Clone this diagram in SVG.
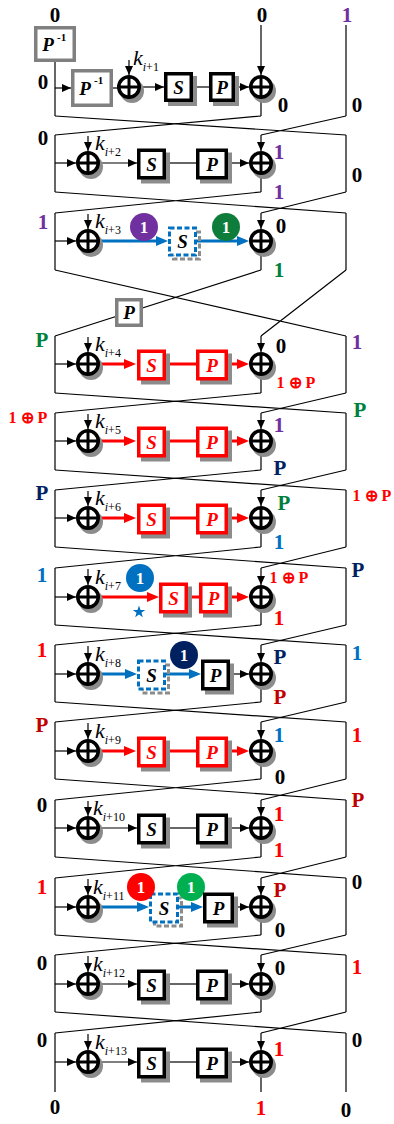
<svg xmlns="http://www.w3.org/2000/svg" xmlns:xlink="http://www.w3.org/1999/xlink" width="394" height="1124" viewBox="0 0 394 1124">
<style>
.w{fill:none;stroke:#000;stroke-width:1.2}
.r{fill:none;stroke:#f00;stroke-width:3}
.u{fill:none;stroke:#0070c0;stroke-width:3}
.sh{fill:#8c8c8c}
.bx{fill:#fff;stroke:#000;stroke-width:3.5}
.bxr{fill:#fff;stroke:#f00;stroke-width:3.5}
.bxg{fill:#fff;stroke:#808080;stroke-width:3.5}
.bxd{fill:#fff;stroke:#0070c0;stroke-width:3;stroke-dasharray:5 2.5}
.shd{fill:none;stroke:#8c8c8c;stroke-width:3;stroke-dasharray:5 2.5}
.t{font-family:"Liberation Serif","Times New Roman",serif;font-weight:bold;font-style:italic;font-size:19px;text-anchor:middle;fill:#000}
.tr{fill:#f00}
.sup{font-family:"Liberation Serif",serif;font-weight:bold;font-size:11px}
.l{font-family:"Liberation Serif","Times New Roman",serif;font-weight:bold;font-size:21px;text-anchor:middle;fill:#000}
.s{font-size:16px}
.k{font-family:"Liberation Serif","Times New Roman",serif;font-style:italic;font-size:22px;fill:#000}
.sub{font-size:12px;font-style:normal}
.c{font-family:"Liberation Serif",serif;font-weight:bold;font-size:17px;fill:#fff;text-anchor:middle}
.pu{fill:#7030a0}.gr{fill:#00803c}.nv{fill:#002060}.bl{fill:#0070c0}.rd{fill:#f00}.dr{fill:#c00000}
</style>
<defs>
<marker id="ab" markerUnits="userSpaceOnUse" markerWidth="9" markerHeight="8" refX="9" refY="4" orient="auto"><path d="M0,0L9,4L0,8z" fill="#000"/></marker>
<marker id="ar" markerUnits="userSpaceOnUse" markerWidth="12" markerHeight="10" refX="8" refY="5" orient="auto"><path d="M0,0L12,5L0,10z" fill="#f00"/></marker>
<marker id="au" markerUnits="userSpaceOnUse" markerWidth="12" markerHeight="10" refX="8" refY="5" orient="auto"><path d="M0,0L12,5L0,10z" fill="#0070c0"/></marker>
<g id="x"><circle cx="3" cy="4" r="12" class="sh"/><circle r="10.25" fill="#fff" stroke="#000" stroke-width="3.5"/><path d="M-10,0H10M0,-10V10" stroke="#000" stroke-width="3"/></g>
</defs>
<rect width="394" height="1124" fill="#fff"/>

<g id="connectors">
<path class="w" d="M55,62V116"/>
<path class="w" d="M55,88H71" marker-end="url(#ab)"/>
<path class="w" d="M113,88H118"/>
<path class="w" d="M129,60V75" marker-end="url(#ab)"/>
<path class="w" d="M141,87H164" marker-end="url(#ab)"/>
<path class="w" d="M193,87H209"/>
<path class="w" d="M235,87H249" marker-end="url(#ab)"/>
<path class="w" d="M261,25V75" marker-end="url(#ab)"/>
<path class="w" d="M261,99V116M346,25V116"/>
<path class="w" d="M55,116L346,135M261,116L55,135M346,116L261,135"/>
<path class="w" d="M55,192L346,213M261,192L55,213M346,192L261,213"/>
<path class="w" d="M55,270L346,336M261,270L55,336M346,270L261,336"/>
<path class="w" d="M55,393L346,413M261,393L55,413M346,393L261,413"/>
<path class="w" d="M55,470L346,490M261,470L55,490M346,470L261,490"/>
<path class="w" d="M55,547L346,568M261,547L55,568M346,547L261,568"/>
<path class="w" d="M55,625L346,645M261,625L55,645M346,625L261,645"/>
<path class="w" d="M55,702L346,722M261,702L55,722M346,702L261,722"/>
<path class="w" d="M55,779L346,800M261,779L55,800M346,779L261,800"/>
<path class="w" d="M55,857L346,878M261,857L55,878M346,857L261,878"/>
<path class="w" d="M55,935L346,955M261,935L55,955M346,935L261,955"/>
<path class="w" d="M55,1012L346,1033M261,1012L55,1033M346,1012L261,1033"/>
<path class="w" d="M55,135V192M261,175V192M346,135V192"/>
<path class="w" d="M55,163H76" marker-end="url(#ab)"/>
<path class="w" d="M88,136V151" marker-end="url(#ab)"/>
<path class="w" d="M261,135V151" marker-end="url(#ab)"/>
<path class="w" d="M100,163H137" marker-end="url(#ab)"/>
<path class="w" d="M166,163H196"/>
<path class="w" d="M228,163H249" marker-end="url(#ab)"/>
<path class="w" d="M55,213V270M261,253V270M346,213V270"/>
<path class="w" d="M55,241H76" marker-end="url(#ab)"/>
<path class="w" d="M88,214V229" marker-end="url(#ab)"/>
<path class="w" d="M261,213V229" marker-end="url(#ab)"/>
<path class="u" d="M100,241H164" marker-end="url(#au)"/>
<path class="u" d="M197,241H245" marker-end="url(#au)"/>
<path class="w" d="M55,336V393M261,376V393M346,336V393"/>
<path class="w" d="M55,364H76" marker-end="url(#ab)"/>
<path class="w" d="M88,337V352" marker-end="url(#ab)"/>
<path class="w" d="M261,336V352" marker-end="url(#ab)"/>
<path class="r" d="M100,364H132" marker-end="url(#ar)"/>
<path class="r" d="M166,364H196"/>
<path class="r" d="M228,364H245" marker-end="url(#ar)"/>
<path class="w" d="M55,413V470M261,453V470M346,413V470"/>
<path class="w" d="M55,441H76" marker-end="url(#ab)"/>
<path class="w" d="M88,414V429" marker-end="url(#ab)"/>
<path class="w" d="M261,413V429" marker-end="url(#ab)"/>
<path class="r" d="M100,441H132" marker-end="url(#ar)"/>
<path class="r" d="M166,441H196"/>
<path class="r" d="M228,441H245" marker-end="url(#ar)"/>
<path class="w" d="M55,490V547M261,530V547M346,490V547"/>
<path class="w" d="M55,518H76" marker-end="url(#ab)"/>
<path class="w" d="M88,491V506" marker-end="url(#ab)"/>
<path class="w" d="M261,490V506" marker-end="url(#ab)"/>
<path class="r" d="M100,518H132" marker-end="url(#ar)"/>
<path class="r" d="M166,518H196"/>
<path class="r" d="M228,518H245" marker-end="url(#ar)"/>
<path class="w" d="M55,568V625M261,609V625M346,568V625"/>
<path class="w" d="M55,597H76" marker-end="url(#ab)"/>
<path class="w" d="M88,569V585" marker-end="url(#ab)"/>
<path class="w" d="M261,568V585" marker-end="url(#ab)"/>
<path class="r" d="M100,597H155" marker-end="url(#ar)"/>
<path class="r" d="M188,597H199"/>
<path class="r" d="M228,597H245" marker-end="url(#ar)"/>
<path class="w" d="M55,645V702M261,686V702M346,645V702"/>
<path class="w" d="M55,674H76" marker-end="url(#ab)"/>
<path class="w" d="M88,646V662" marker-end="url(#ab)"/>
<path class="w" d="M261,645V662" marker-end="url(#ab)"/>
<path class="u" d="M100,674H133" marker-end="url(#au)"/>
<path class="u" d="M166,674H197" marker-end="url(#au)"/>
<path class="w" d="M230,674H249" marker-end="url(#ab)"/>
<path class="w" d="M55,722V779M261,763V779M346,722V779"/>
<path class="w" d="M55,751H76" marker-end="url(#ab)"/>
<path class="w" d="M88,723V739" marker-end="url(#ab)"/>
<path class="w" d="M261,722V739" marker-end="url(#ab)"/>
<path class="r" d="M100,751H132" marker-end="url(#ar)"/>
<path class="r" d="M166,751H196"/>
<path class="r" d="M228,751H245" marker-end="url(#ar)"/>
<path class="w" d="M55,800V857M261,840V857M346,800V857"/>
<path class="w" d="M55,828H76" marker-end="url(#ab)"/>
<path class="w" d="M88,801V816" marker-end="url(#ab)"/>
<path class="w" d="M261,800V816" marker-end="url(#ab)"/>
<path class="w" d="M100,828H137" marker-end="url(#ab)"/>
<path class="w" d="M166,828H196"/>
<path class="w" d="M228,828H249" marker-end="url(#ab)"/>
<path class="w" d="M55,878V935M261,919V935M346,878V935"/>
<path class="w" d="M55,907H76" marker-end="url(#ab)"/>
<path class="w" d="M88,879V895" marker-end="url(#ab)"/>
<path class="w" d="M261,878V895" marker-end="url(#ab)"/>
<path class="u" d="M100,907H145" marker-end="url(#au)"/>
<path class="u" d="M179,907H199" marker-end="url(#au)"/>
<path class="w" d="M234,907H249" marker-end="url(#ab)"/>
<path class="w" d="M55,955V1012M261,996V1012M346,955V1012"/>
<path class="w" d="M55,984H76" marker-end="url(#ab)"/>
<path class="w" d="M88,956V972" marker-end="url(#ab)"/>
<path class="w" d="M261,955V972" marker-end="url(#ab)"/>
<path class="w" d="M100,984H137" marker-end="url(#ab)"/>
<path class="w" d="M166,984H196"/>
<path class="w" d="M228,984H249" marker-end="url(#ab)"/>
<path class="w" d="M55,1033V1092M261,1074V1092M346,1033V1092"/>
<path class="w" d="M55,1062H76" marker-end="url(#ab)"/>
<path class="w" d="M88,1034V1050" marker-end="url(#ab)"/>
<path class="w" d="M261,1033V1050" marker-end="url(#ab)"/>
<path class="w" d="M100,1062H137" marker-end="url(#ab)"/>
<path class="w" d="M166,1062H196"/>
<path class="w" d="M228,1062H249" marker-end="url(#ab)"/>
</g>

<g id="top-labels">
<text class="l" x="55" y="22">0</text>
<text class="l" x="262" y="22">0</text>
<text class="l pu" x="347" y="22">1</text>
</g>

<g id="round1">
<rect class="bxg" x="35.75" y="27.75" width="38.5" height="32.5"/>
<text class="t" x="48" y="51">P</text><text class="sup" x="57" y="41">-1</text>
<rect class="bxg" x="72.75" y="70.75" width="38.5" height="34.5"/>
<text class="t" x="85" y="95">P</text><text class="sup" x="94" y="84">-1</text>
<use xlink:href="#x" x="129" y="87"/>
<text class="k" x="133" y="65">k<tspan class="sub" dy="6"><tspan font-style="italic">i</tspan>+1</tspan></text>
<rect class="sh" x="168" y="76" width="29" height="30"/>
<rect class="bx" x="165.75" y="73.75" width="25.5" height="26.5"/>
<text class="t" x="178.5" y="94">S</text>
<rect class="sh" x="213" y="76" width="26" height="30"/>
<rect class="bx" x="210.75" y="73.75" width="22.5" height="26.5"/>
<text class="t" x="222" y="94">P</text>
<use xlink:href="#x" x="261" y="87"/>
<text class="l" x="43" y="89">0</text>
<text class="l" x="283" y="112">0</text>
<text class="l" x="357" y="112">0</text>
</g>

<g id="round2">
<use xlink:href="#x" x="88" y="163"/>
<text class="k" x="95" y="150">k<tspan class="sub" dy="6"><tspan font-style="italic">i</tspan>+2</tspan></text>
<rect class="sh" x="141" y="152.5" width="29" height="31"/>
<rect class="bx" x="138.75" y="150.25" width="25.5" height="27.5"/>
<text class="t" x="151.5" y="171">S</text>
<rect class="sh" x="200" y="152.5" width="32" height="31"/>
<rect class="bx" x="197.75" y="150.25" width="28.5" height="27.5"/>
<text class="t" x="212" y="171">P</text>
<use xlink:href="#x" x="261" y="163"/>
<text class="l" x="43" y="145">0</text>
<text class="l pu" x="279" y="159">1</text>
<text class="l pu" x="279" y="199">1</text>
<text class="l" x="357" y="182">0</text>
</g>

<g id="round3">
<use xlink:href="#x" x="88" y="241"/>
<text class="k" x="95" y="228">k<tspan class="sub" dy="6"><tspan font-style="italic">i</tspan>+3</tspan></text>
<rect class="shd" x="173.5" y="232" width="26" height="27"/>
<rect class="bxd" x="169.5" y="228" width="26" height="27"/>
<text class="t" x="182.5" y="248">S</text>
<circle cx="144" cy="227" r="14" fill="#7030a0"/><text class="c" x="144" y="233">1</text>
<circle cx="226" cy="227" r="14" fill="#0e7c3a"/><text class="c" x="226" y="233">1</text>
<use xlink:href="#x" x="261" y="241"/>
<text class="l pu" x="43" y="229">1</text>
<text class="l" x="281" y="233">0</text>
<text class="l gr" x="279" y="277">1</text>
</g>

<g id="perm-P">
<rect class="bxg" x="116.75" y="299.75" width="24.5" height="25.5"/>
<text class="t" x="129" y="319">P</text>
</g>

<g id="round4">
<use xlink:href="#x" x="88" y="364"/>
<text class="k" x="95" y="351">k<tspan class="sub" dy="6"><tspan font-style="italic">i</tspan>+4</tspan></text>
<rect class="sh" x="141" y="353.5" width="29" height="31"/>
<rect class="bxr" x="138.75" y="351.25" width="25.5" height="27.5"/>
<text class="t tr" x="151.5" y="372">S</text>
<rect class="sh" x="200" y="353.5" width="32" height="31"/>
<rect class="bxr" x="197.75" y="351.25" width="28.5" height="27.5"/>
<text class="t tr" x="212" y="372">P</text>
<use xlink:href="#x" x="261" y="364"/>
<text class="l gr" x="42" y="347">P</text>
<text class="l" x="281" y="353">0</text>
<text class="l s rd" x="296" y="388">1 ⊕ P</text>
<text class="l pu" x="357" y="349">1</text>
</g>

<g id="round5">
<use xlink:href="#x" x="88" y="441"/>
<text class="k" x="95" y="428">k<tspan class="sub" dy="6"><tspan font-style="italic">i</tspan>+5</tspan></text>
<rect class="sh" x="141" y="430.5" width="29" height="31"/>
<rect class="bxr" x="138.75" y="428.25" width="25.5" height="27.5"/>
<text class="t tr" x="151.5" y="449">S</text>
<rect class="sh" x="200" y="430.5" width="32" height="31"/>
<rect class="bxr" x="197.75" y="428.25" width="28.5" height="27.5"/>
<text class="t tr" x="212" y="449">P</text>
<use xlink:href="#x" x="261" y="441"/>
<text class="l s rd" x="28" y="423">1 ⊕ P</text>
<text class="l pu" x="279" y="432">1</text>
<text class="l nv" x="280" y="475">P</text>
<text class="l gr" x="360" y="417">P</text>
</g>

<g id="round6">
<use xlink:href="#x" x="88" y="518"/>
<text class="k" x="95" y="505">k<tspan class="sub" dy="6"><tspan font-style="italic">i</tspan>+6</tspan></text>
<rect class="sh" x="141" y="507.5" width="29" height="31"/>
<rect class="bxr" x="138.75" y="505.25" width="25.5" height="27.5"/>
<text class="t tr" x="151.5" y="526">S</text>
<rect class="sh" x="200" y="507.5" width="32" height="31"/>
<rect class="bxr" x="197.75" y="505.25" width="28.5" height="27.5"/>
<text class="t tr" x="212" y="526">P</text>
<use xlink:href="#x" x="261" y="518"/>
<text class="l nv" x="42" y="500">P</text>
<text class="l gr" x="284" y="510">P</text>
<text class="l bl" x="279" y="549">1</text>
<text class="l s rd" x="372" y="501">1 ⊕ P</text>
</g>

<g id="round7">
<use xlink:href="#x" x="88" y="597"/>
<text class="k" x="95" y="584">k<tspan class="sub" dy="6"><tspan font-style="italic">i</tspan>+7</tspan></text>
<circle cx="140" cy="578" r="14" fill="#0070c0"/><text class="c" x="140" y="584">1</text>
<polygon fill="#0070c0" transform="translate(139,612)" points="0,-6.5 1.53,-2.1 6.18,-2.01 2.47,0.8 3.82,5.26 0,2.6 -3.82,5.26 -2.47,0.8 -6.18,-2.01 -1.53,-2.1"/>
<rect class="sh" x="163" y="586.5" width="29" height="31"/>
<rect class="bxr" x="160.75" y="584.25" width="25.5" height="27.5"/>
<text class="t tr" x="173.5" y="605">S</text>
<rect class="sh" x="203" y="586.5" width="29" height="31"/>
<rect class="bxr" x="200.75" y="584.25" width="25.5" height="27.5"/>
<text class="t tr" x="213.5" y="605">P</text>
<use xlink:href="#x" x="261" y="597"/>
<text class="l bl" x="42" y="582">1</text>
<text class="l s rd" x="289" y="583">1 ⊕ P</text>
<text class="l rd" x="279" y="625">1</text>
<text class="l nv" x="358" y="577">P</text>
</g>

<g id="round8">
<use xlink:href="#x" x="88" y="674"/>
<text class="k" x="95" y="661">k<tspan class="sub" dy="6"><tspan font-style="italic">i</tspan>+8</tspan></text>
<rect class="shd" x="142.5" y="665" width="26" height="28"/>
<rect class="bxd" x="138.5" y="661" width="26" height="28"/>
<text class="t" x="151.5" y="682">S</text>
<circle cx="184" cy="655" r="14" fill="#002060"/><text class="c" x="184" y="661">1</text>
<rect class="sh" x="205" y="663.5" width="29" height="31"/>
<rect class="bx" x="202.75" y="661.25" width="25.5" height="27.5"/>
<text class="t" x="215.5" y="682">P</text>
<use xlink:href="#x" x="261" y="674"/>
<text class="l rd" x="42" y="657">1</text>
<text class="l nv" x="280" y="664">P</text>
<text class="l dr" x="280" y="704">P</text>
<text class="l bl" x="357" y="660">1</text>
</g>

<g id="round9">
<use xlink:href="#x" x="88" y="751"/>
<text class="k" x="95" y="738">k<tspan class="sub" dy="6"><tspan font-style="italic">i</tspan>+9</tspan></text>
<rect class="sh" x="141" y="740.5" width="29" height="31"/>
<rect class="bxr" x="138.75" y="738.25" width="25.5" height="27.5"/>
<text class="t tr" x="151.5" y="759">S</text>
<rect class="sh" x="200" y="740.5" width="32" height="31"/>
<rect class="bxr" x="197.75" y="738.25" width="28.5" height="27.5"/>
<text class="t tr" x="212" y="759">P</text>
<use xlink:href="#x" x="261" y="751"/>
<text class="l dr" x="42" y="732">P</text>
<text class="l bl" x="279" y="742">1</text>
<text class="l" x="280" y="784">0</text>
<text class="l rd" x="357" y="742">1</text>
</g>

<g id="round10">
<use xlink:href="#x" x="88" y="828"/>
<text class="k" x="93" y="815">k<tspan class="sub" dy="6"><tspan font-style="italic">i</tspan>+10</tspan></text>
<rect class="sh" x="141" y="817.5" width="29" height="31"/>
<rect class="bx" x="138.75" y="815.25" width="25.5" height="27.5"/>
<text class="t" x="151.5" y="836">S</text>
<rect class="sh" x="200" y="817.5" width="32" height="31"/>
<rect class="bx" x="197.75" y="815.25" width="28.5" height="27.5"/>
<text class="t" x="212" y="836">P</text>
<use xlink:href="#x" x="261" y="828"/>
<text class="l" x="42" y="812">0</text>
<text class="l rd" x="279" y="821">1</text>
<text class="l rd" x="279" y="857">1</text>
<text class="l dr" x="358" y="807">P</text>
</g>

<g id="round11">
<use xlink:href="#x" x="88" y="907"/>
<text class="k" x="93" y="894">k<tspan class="sub" dy="6"><tspan font-style="italic">i</tspan>+11</tspan></text>
<rect class="shd" x="154.5" y="898" width="27" height="28"/>
<rect class="bxd" x="150.5" y="894" width="27" height="28"/>
<text class="t" x="164" y="915">S</text>
<circle cx="141" cy="887" r="14" fill="#ff0000"/><text class="c" x="141" y="893">1</text>
<circle cx="191" cy="887" r="14" fill="#00b050"/><text class="c" x="191" y="893">1</text>
<rect class="sh" x="207" y="896.5" width="31" height="31"/>
<rect class="bx" x="204.75" y="894.25" width="27.5" height="27.5"/>
<text class="t" x="218.5" y="915">P</text>
<use xlink:href="#x" x="261" y="907"/>
<text class="l rd" x="42" y="894">1</text>
<text class="l dr" x="280" y="897">P</text>
<text class="l" x="280" y="937">0</text>
<text class="l" x="357" y="889">0</text>
</g>

<g id="round12">
<use xlink:href="#x" x="88" y="984"/>
<text class="k" x="93" y="971">k<tspan class="sub" dy="6"><tspan font-style="italic">i</tspan>+12</tspan></text>
<rect class="sh" x="141" y="973.5" width="29" height="31"/>
<rect class="bx" x="138.75" y="971.25" width="25.5" height="27.5"/>
<text class="t" x="151.5" y="992">S</text>
<rect class="sh" x="200" y="973.5" width="32" height="31"/>
<rect class="bx" x="197.75" y="971.25" width="28.5" height="27.5"/>
<text class="t" x="212" y="992">P</text>
<use xlink:href="#x" x="261" y="984"/>
<text class="l" x="42" y="970">0</text>
<text class="l" x="280" y="975">0</text>
<text class="l rd" x="357" y="974">1</text>
</g>

<g id="round13">
<use xlink:href="#x" x="88" y="1062"/>
<text class="k" x="95" y="1049">k<tspan class="sub" dy="6"><tspan font-style="italic">i</tspan>+13</tspan></text>
<rect class="sh" x="141" y="1051.5" width="29" height="31"/>
<rect class="bx" x="138.75" y="1049.25" width="25.5" height="27.5"/>
<text class="t" x="151.5" y="1070">S</text>
<rect class="sh" x="200" y="1051.5" width="32" height="31"/>
<rect class="bx" x="197.75" y="1049.25" width="28.5" height="27.5"/>
<text class="t" x="212" y="1070">P</text>
<use xlink:href="#x" x="261" y="1062"/>
<text class="l" x="42" y="1047">0</text>
<text class="l rd" x="279" y="1056">1</text>
<text class="l" x="357" y="1047">0</text>
</g>

<g id="bottom-labels">
<text class="l" x="55" y="1114">0</text>
<text class="l rd" x="261" y="1115">1</text>
<text class="l" x="346" y="1117">0</text>
</g>
</svg>
